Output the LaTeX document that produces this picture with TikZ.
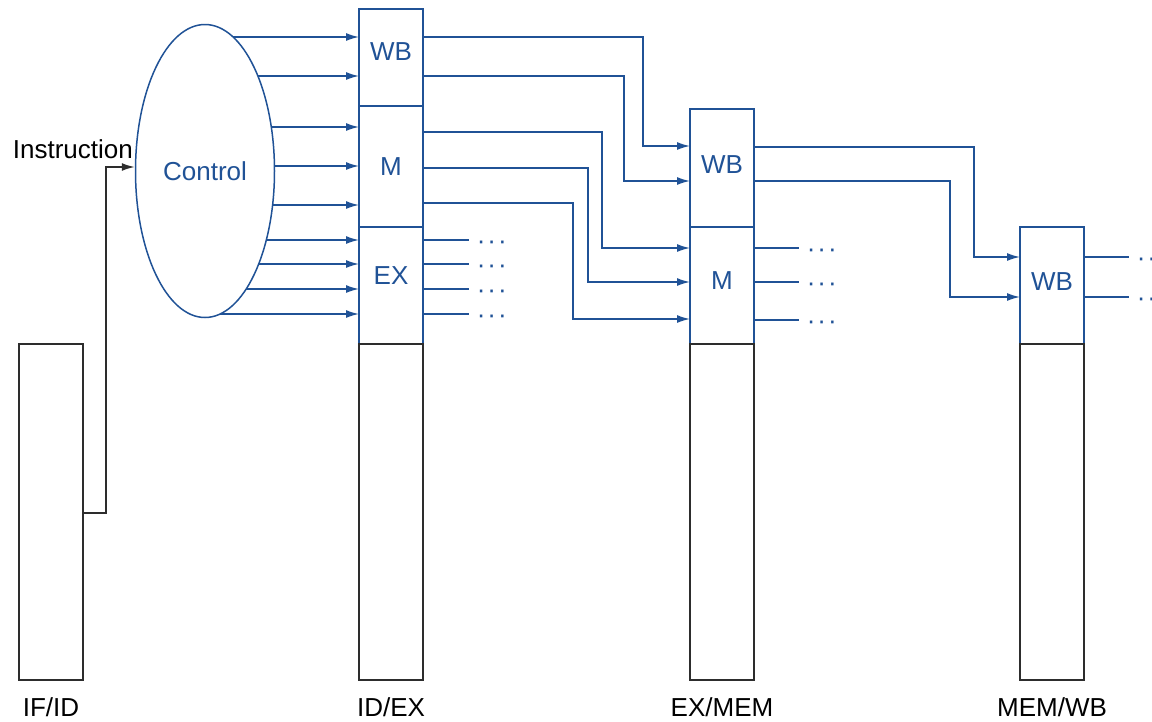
\documentclass[tikz,border=0pt]{standalone}
\usepackage{fontspec}
\setmainfont{Liberation Sans}
\usetikzlibrary{arrows.meta,calc,positioning,shapes.geometric}
\definecolor{CtrlBlue}{RGB}{32,82,150}
\definecolor{LatchGray}{RGB}{45,45,45}
\newcommand{\moredots}{·\kern2pt·\kern2pt·}

\begin{document}
\begin{tikzpicture}[x=1pt,y=-1pt,>={Latex[length=13pt,width=8pt]},
    font=\fontsize{26}{31}\selectfont,
    field/.style={draw=CtrlBlue,text=CtrlBlue,line width=1.5pt,minimum width=64pt,inner sep=0pt,outer sep=0pt},
    latch/.style={draw=LatchGray,line width=1.6pt,minimum width=64pt,minimum height=336pt,inner sep=0pt,outer sep=0pt},
    stage/.style={inner sep=0pt,below=17pt of #1},
    sig/.style={->,CtrlBlue,line width=1.5pt},
    more/.style={CtrlBlue,anchor=mid west,yshift=-7pt,inner xsep=7pt,inner ysep=0pt}]
  \useasboundingbox (0,0) rectangle (1152,721);
  % pipeline registers
  \node[latch,anchor=north west] (ifid) at (19,344) {};
  \node[field,minimum height=97pt,text depth=12pt,anchor=north west] (idwb) at (359,9) {WB};
  \node[field,minimum height=121pt,below=0pt of idwb] (idm) {M};
  \node[field,minimum height=117pt,text depth=20pt,below=0pt of idm] (idex) {EX};
  \node[latch,below=0pt of idex] (idreg) {};
  \node[field,minimum height=118pt,text depth=6pt,anchor=north west] (exwb) at (690,109) {WB};
  \node[field,minimum height=117pt,text depth=9pt,below=0pt of exwb] (exm) {M};
  \node[latch,below=0pt of exm] (exreg) {};
  \node[field,minimum height=117pt,text depth=7pt,anchor=north west] (wbwb) at (1020,227) {WB};
  \node[latch,below=0pt of wbwb] (wbreg) {};
  \node[stage=ifid] (ifidlbl) {IF/ID};
  \node[stage=idreg] (idexlbl) {ID/EX};
  \node[stage=exreg] (exmemlbl) {EX/MEM};
  \node[stage=wbreg] (memwblbl) {MEM/WB};
  % control unit
  \node[ellipse,draw=CtrlBlue,text=CtrlBlue,line width=1.5pt,minimum width=139pt,minimum height=293pt,inner sep=0pt] (ctrl) at (205,171) {Control};
  \node[anchor=base east,inner sep=0pt] (instr) at (133,158) {Instruction};
  \draw[->,LatchGray,line width=1.6pt] (ifid.east |- 0,513) -| (106,167) -- (ctrl.west |- 0,167);
  % control lines into ID/EX
  \foreach \y in {37,76,127,166,205,240,264,289,314}
    \draw[sig] ($(ctrl.center)+({69.5*sqrt(1-((\y-171)/146.5)^2)},\y-171)$) -- (idwb.west |- 0,\y);
  % ID/EX to EX/MEM
  \draw[sig] (idwb.east |- 0,37) -| (643,146) -- (exwb.west |- 0,146);
  \draw[sig] (idwb.east |- 0,76) -| (624,181) -- (exwb.west |- 0,181);
  \draw[sig] (idm.east |- 0,132) -| (602,248) -- (exm.west |- 0,248);
  \draw[sig] (idm.east |- 0,168) -| (588,282) -- (exm.west |- 0,282);
  \draw[sig] (idm.east |- 0,203) -| (573,319) -- (exm.west |- 0,319);
  \foreach \y/\n in {240/a,264/b,289/c,314/d}
    \draw[CtrlBlue,line width=1.5pt] (idex.east |- 0,\y) -- ++(46,0) node[more] (exdots\n) {\moredots};
  % EX/MEM to MEM/WB
  \draw[sig] (exwb.east |- 0,147) -| (974,257) -- (wbwb.west |- 0,257);
  \draw[sig] (exwb.east |- 0,181) -| (950,297) -- (wbwb.west |- 0,297);
  \foreach \y/\n in {248/a,282/b,320/c}
    \draw[CtrlBlue,line width=1.5pt] (exm.east |- 0,\y) -- ++(45,0) node[more] (mdots\n) {\moredots};
  \foreach \y/\n in {257/a,297/b}
    \draw[CtrlBlue,line width=1.5pt] (wbwb.east |- 0,\y) -- ++(45,0) node[more] (wbdots\n) {\moredots};
\end{tikzpicture}
\end{document}
